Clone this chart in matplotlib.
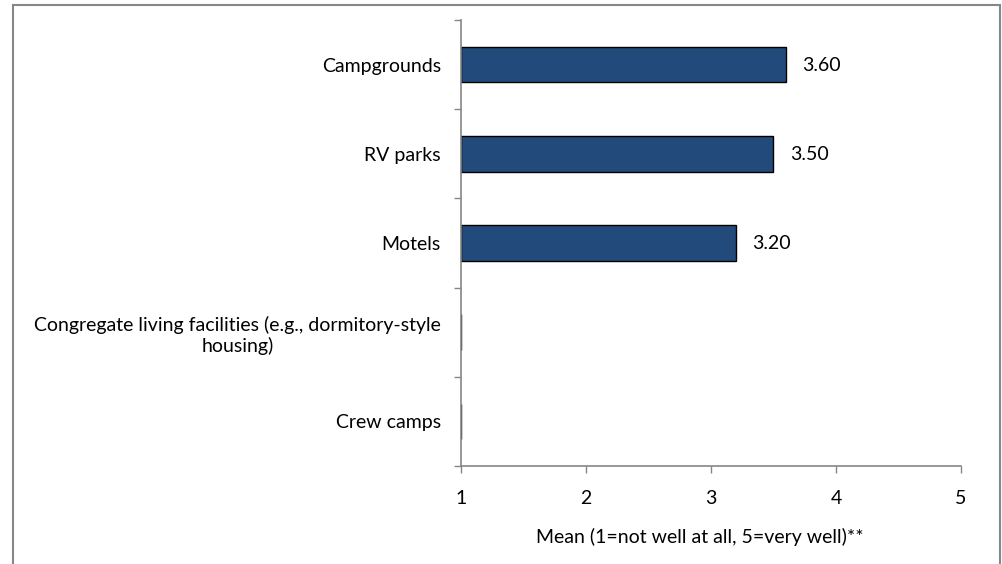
import matplotlib
matplotlib.use("Agg")
import matplotlib.pyplot as plt
from matplotlib.patches import Rectangle
import numpy as np

categories = ["Campgrounds", "RV parks", "Motels",
              "Congregate living facilities (e.g., dormitory-style\nhousing)",
              "Crew camps"]
values = [3.60, 3.50, 3.20, 1.0, 1.0]
labels = ["3.60", "3.50", "3.20", "", ""]
xticks = [1, 2, 3, 4, 5]
xlabel = "Mean (1=not well at all, 5=very well)**"

plt.rcParams['font.family'] = ['Lato', 'DejaVu Sans']
FS = 14

fig = plt.figure(figsize=(10.03, 5.64), dpi=100)
ax = fig.add_axes([461/1003, 98/564, 500/1003, (466-20)/564])

y = np.arange(len(categories))
widths = [v - 1 for v in values]
ax.barh(y, widths, left=1, height=0.4, color="#224A7B",
        edgecolor="black", linewidth=1.0)
for yi, v, lab in zip(y, values, labels):
    if lab:
        ax.text(v + 0.13, yi + 0.01, lab, va="center", ha="left", fontsize=FS)

ax.set_xlim(1, 5)
ax.set_ylim(len(categories) - 0.5, -0.5)
ax.set_xticks(xticks)
ax.set_xticklabels([str(t) for t in xticks], fontsize=FS)
ax.set_yticks(y)
ax.set_yticklabels(categories, fontsize=FS, multialignment="center")
ax.tick_params(axis="y", length=0, pad=14.5)
ax.set_yticks(np.arange(-0.5, len(categories), 1), minor=True)
ax.tick_params(axis="y", which="minor", length=5, color="#868686", width=1)
ax.tick_params(axis="x", length=5, color="#868686", width=1, pad=12)
ax.set_xlabel(xlabel, fontsize=FS, va="center")
ax.xaxis.set_label_coords(0.478, -(537 - 466) / 446)

for s in ["top", "right"]:
    ax.spines[s].set_visible(False)
for s in ["left", "bottom"]:
    ax.spines[s].set_color("#868686")
    ax.spines[s].set_linewidth(1.2)

border = Rectangle((13/1003, -0.05), (1000-13)/1003, (559/564) + 0.05,
                   transform=fig.transFigure, fill=False,
                   edgecolor="#878787", linewidth=1.5, clip_on=False)
fig.patches.append(border)

fig.savefig("out.png", dpi=100)
